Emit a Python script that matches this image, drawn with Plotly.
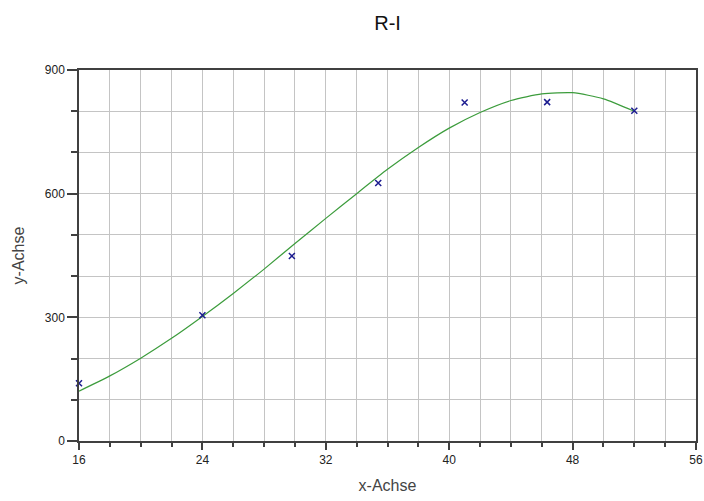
import plotly.graph_objects as go

# measured data points
x_data = [16, 24, 29.8, 35.4, 41.0, 46.35, 52]
y_data = [140, 305, 449, 626, 821, 822, 801]

# fitted curve
x_fit = [16, 18, 20, 22, 24, 26, 28, 30, 32, 34, 36, 38, 40, 42, 44, 46, 48, 50, 52]
y_fit = [121, 158, 201, 249, 302, 358, 417, 479, 540, 600, 659, 712, 759, 797, 826, 842, 845, 830, 800]

x_ticks = [16, 24, 32, 40, 48, 56]
y_ticks = [0, 300, 600, 900]

font_family = "Liberation Sans, Arial, sans-serif"
axis_col = "#404040"
grid_col = "#c4c4c4"

fig = go.Figure()
fig.add_trace(go.Scatter(
    x=x_fit, y=y_fit, mode="lines",
    line=dict(color="#3c9c3c", width=1.2, shape="spline", smoothing=0.6),
    showlegend=False, hoverinfo="skip",
))
fig.add_trace(go.Scatter(
    x=x_data, y=y_data, mode="markers",
    marker=dict(symbol="x-thin", size=6, line=dict(color="#1c1c90", width=1.5)),
    cliponaxis=False, showlegend=False,
))

fig.update_layout(
    width=704, height=501,
    margin=dict(l=79, r=8, t=70, b=60, autoexpand=False),
    paper_bgcolor="white", plot_bgcolor="white",
    font=dict(family=font_family, color="#222222"),
    title=dict(text="R-I", x=0.5505, xanchor="center", y=0.955, yanchor="middle",
               font=dict(size=20, color="#111111", family=font_family)),
    xaxis=dict(
        range=[16, 56], tickvals=x_ticks, ticktext=[str(v) for v in x_ticks],
        automargin=False,
        showline=True, linecolor=axis_col, linewidth=1.5, mirror=True,
        ticks="outside", ticklen=7, tickcolor=axis_col, tickwidth=1.5,
        showgrid=True, gridcolor=grid_col, gridwidth=1,
        zeroline=False,
        minor=dict(dtick=2, tick0=16, ticks="outside", ticklen=4, tickcolor=axis_col,
                   showgrid=True, gridcolor=grid_col, gridwidth=1),
        tickfont=dict(size=12, color="#222222"),
        title=dict(text="x-Achse", font=dict(size=16, color="#444444"), standoff=14),
    ),
    yaxis=dict(
        range=[0, 900], tickvals=y_ticks, ticktext=[str(v) for v in y_ticks],
        automargin=False,
        showline=True, linecolor=axis_col, linewidth=1.5, mirror=True,
        ticks="outside", ticklen=10, tickcolor=axis_col, tickwidth=1.5,
        showgrid=True, gridcolor=grid_col, gridwidth=1,
        zeroline=False,
        minor=dict(dtick=100, tick0=0, ticks="outside", ticklen=6, tickcolor=axis_col,
                   showgrid=True, gridcolor=grid_col, gridwidth=1),
        tickfont=dict(size=12, color="#222222"),
        title=dict(text="y-Achse", font=dict(size=16, color="#444444"), standoff=16),
    ),
)

fig.write_html("out.html")
